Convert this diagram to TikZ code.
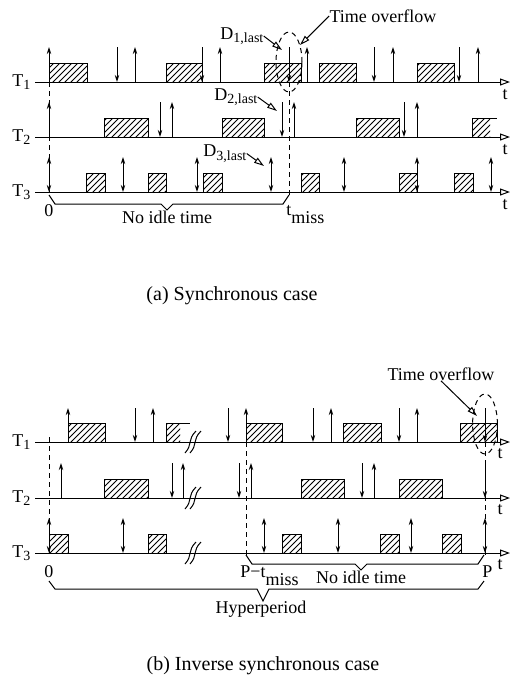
\documentclass[tikz,border=0pt]{standalone}
\usepackage{fontspec}
\setmainfont{Liberation Serif}
\usetikzlibrary{arrows.meta,patterns}
\newcommand\lowsub[1]{\raisebox{-0.45ex}{\fontsize{7}{8}\selectfont #1}}
\newcommand\dropsub[1]{\raisebox{-4pt}{#1}}
\tikzset{
  axisline/.style={line width=0.5pt,-{Triangle[open,length=5pt,width=3.5pt]}},
  jobbox/.style={draw,line width=0.5pt,pattern=north east lines},
  relarr/.style={line width=0.5pt,-{Stealth[length=3.5pt,width=2.2pt]}},
  dblarr/.style={line width=0.5pt,{Stealth[length=3.5pt,width=2.2pt]}-{Stealth[length=3.5pt,width=2.2pt]}},
  guide/.style={line width=0.5pt,dash pattern=on 2.5pt off 2pt},
  ptr/.style={line width=0.5pt,-{Triangle[open,length=5pt,width=3pt]}},
  brc/.style={line width=0.5pt},
  lab/.style={font=\fontsize{9}{10}\selectfont,inner sep=0pt},
  captext/.style={font=\fontsize{10}{12}\selectfont,inner sep=0pt},
}
\begin{document}
\begin{tikzpicture}[x=0.5pt,y=-0.5pt]
  \useasboundingbox (0,0) rectangle (511,681);
  % (a) synchronous case
  \foreach \a/\b in {49/87,166/202,264/301,319/356,417/454} \draw[jobbox] (\a,63) rectangle (\b,82);
  \foreach \a/\b in {104/148,222/264,356/399} \draw[jobbox] (\a,118) rectangle (\b,137);
  \fill[pattern=north east lines] (472,118) rectangle (490,137);
  \draw[line width=0.5pt] (472,137) -- (472,118) -- (497,118);
  \foreach \a/\b in {86/105,148/166,203/222,301/319,399/417,454/473} \draw[jobbox] (\a,173) rectangle (\b,192);
  \draw[guide] (49,82) -- (49,192);
  \draw[guide] (289,82) -- (289,195);
  \foreach \y/\n in {82/1,137/2,192/3} {
    \draw[axisline] (35,\y) -- (510,\y);
    \node[lab,anchor=base west] (ta\n) at (12,\y+4) {T\lowsub{\n}};
    \node[lab] (te\n) at (505,\y+13) {t};
  }
  \foreach \x in {49,135,220,307,393,478} \draw[relarr] (\x,82) -- (\x,47);
  \foreach \x in {117,202,289,374,459} \draw[relarr] (\x,47) -- (\x,82);
  \foreach \x in {49,172,294,417} \draw[relarr] (\x,137) -- (\x,102);
  \foreach \x in {160,282,404} \draw[relarr] (\x,102) -- (\x,137);
  \foreach \x in {49,123,197,271,344,417,491} \draw[dblarr] (\x,192) -- (\x,157);
  \draw[guide] (289,62) ellipse [x radius=6.5pt,y radius=15pt];
  \node[lab] (ova) at (383,16) {Time overflow};
  \coordinate (ovatip) at (300,45);
  \draw[ptr] (ova.west) -- (ovatip);
  \node[lab,anchor=base west] (d1) at (220,39) {D\lowsub{1,last}};
  \coordinate (d1tip) at (282,50);
  \draw[ptr] (d1.east) -- (d1tip);
  \node[lab,anchor=base west] (d2) at (214,100) {D\lowsub{2,last}};
  \coordinate (d2tip) at (277,111);
  \draw[ptr] (d2.east) -- (d2tip);
  \node[lab,anchor=base west] (d3) at (203,156.5) {D\lowsub{3,last}};
  \coordinate (d3tip) at (264,166);
  \draw[ptr] (d3.east) -- (d3tip);
  \draw[brc] (49,195) -- (55,204) -- (161,204) -- (167,210) -- (173,204) -- (283,204) -- (289,195);
  \node[lab] (zeroa) at (49,211) {0};
  \node[lab] (idlea) at (167,217) {No idle time};
  \node[lab,anchor=base west] (tmiss) at (286,215) {t\dropsub{miss}};
  \node[captext] (capa) at (232,296) {(a) Synchronous case};
  % (b) inverse synchronous case
  \foreach \a/\b in {68/105,246/282,343/381,460/497} \draw[jobbox] (\a,423) rectangle (\b,442);
  \fill[pattern=north east lines] (166,423) rectangle (180,442);
  \draw[line width=0.5pt] (166,442) -- (166,423) -- (190,423);
  \foreach \a/\b in {104/148,301/344,399/442} \draw[jobbox] (\a,479) rectangle (\b,498);
  \foreach \a/\b in {49/68,148/166,282/301,380/399,442/461} \draw[jobbox] (\a,534) rectangle (\b,553);
  \draw[guide] (49,437) -- (49,553);
  \draw[guide] (246,442) -- (246,555);
  \draw[guide] (485,442) -- (485,555);
  \foreach \y/\n in {442/1,498/2,553/3} {
    \draw[axisline] (35,\y) -- (510,\y);
    \node[lab,anchor=base west] (tb\n) at (12,\y+4) {T\lowsub{\n}};
    \node[lab] (tf\n) at (500,\y+12) {t};
    \draw[line width=0.5pt] (185,\y+11) .. controls (193,\y+2) and (187,\y-2) .. (196,\y-11);
    \draw[line width=0.5pt] (190,\y+11) .. controls (198,\y+2) and (192,\y-2) .. (201,\y-11);
  }
  \foreach \x in {68,153,246,331,417} \draw[relarr] (\x,442) -- (\x,408);
  \foreach \x in {135,228,313,399,485} \draw[relarr] (\x,408) -- (\x,442);
  \foreach \x in {61,183,251,374} \draw[relarr] (\x,498) -- (\x,463);
  \foreach \x in {172,239,362,485} \draw[relarr] (\x,463) -- (\x,498);
  \foreach \x in {49,123,264,338,411,485} \draw[dblarr] (\x,553) -- (\x,518);
  \draw[guide] (485,424) ellipse [x radius=6.2pt,y radius=15pt];
  \node[lab] (ovb) at (441,374) {Time overflow};
  \coordinate (ovbtip) at (477,416);
  \draw[ptr] (ovb.south) -- (ovbtip);
  \draw[brc] (246,555) -- (252,564) -- (355,564) -- (361,570) -- (367,564) -- (478,564) -- (484,555);
  \draw[brc] (49,581) -- (55,589) -- (257,589) -- (263,601) -- (269,589) -- (478,589) -- (484,581);
  \node[lab] (zerob) at (49,572) {0};
  \node[lab,anchor=base west] (pmiss) at (240,577) {P−t\dropsub{miss}};
  \node[lab] (idleb) at (361,577) {No idle time};
  \node[lab,anchor=base west] (pend) at (482,577) {P};
  \node[lab] (hyper) at (261,609) {Hyperperiod};
  \node[captext] (capb) at (263,666) {(b) Inverse synchronous case};
\end{tikzpicture}
\end{document}
